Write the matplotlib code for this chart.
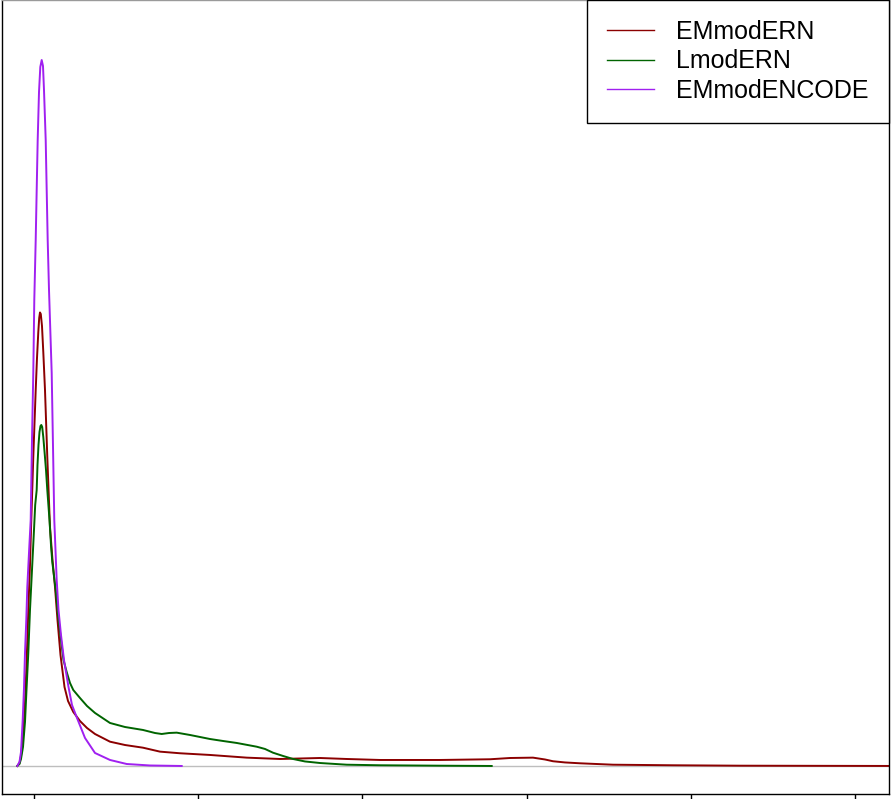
import matplotlib
matplotlib.use('Agg')
import matplotlib.pyplot as plt

# ── Density curves (x in axis units, y relative density) ──
emmod_ern_x = [-0.1017, -0.0883, -0.0792, -0.0670, -0.0548, -0.0445, -0.0347, -0.0244,
               -0.0183, -0.0043, 0.0104, 0.0183, 0.0262, 0.0317, 0.0365, 0.0414,
               0.0487, 0.0566, 0.0670, 0.0810, 0.0974, 0.1127, 0.1279, 0.1431,
               0.1614, 0.1858, 0.2071, 0.2393, 0.2801, 0.3228, 0.3715, 0.4629,
               0.5542, 0.6638, 0.7674, 0.8892, 1.0719, 1.2954, 1.4982, 1.7418,
               1.9044, 2.1072, 2.4726, 2.7771, 2.8989, 3.0390, 3.1121, 3.1608,
               3.2339, 3.3252, 3.5262, 3.8916, 4.2996, 5.2741]
emmod_ern_y = [0.0000, 0.0042, 0.0142, 0.0411, 0.0892, 0.1501, 0.2210, 0.2847,
               0.3343, 0.4377, 0.5326, 0.5779, 0.6147, 0.6346, 0.6424, 0.6402,
               0.6232, 0.5864, 0.5326, 0.4377, 0.3385, 0.2918, 0.2535, 0.2068,
               0.1572, 0.1119, 0.0921, 0.0765, 0.0637, 0.0538, 0.0453, 0.0344,
               0.0297, 0.0259, 0.0203, 0.0180, 0.0156, 0.0118, 0.0099, 0.0113,
               0.0099, 0.0085, 0.0085, 0.0095, 0.0113, 0.0118, 0.0092, 0.0067,
               0.0050, 0.0038, 0.0018, 0.0010, 0.0004, 0.0000]

lmod_ern_x = [-0.1017, -0.0883, -0.0792, -0.0670, -0.0548, -0.0457, -0.0347, -0.0244,
              -0.0122, 0.0000, 0.0073, 0.0164, 0.0213, 0.0274, 0.0335, 0.0396,
              0.0445, 0.0499, 0.0566, 0.0658, 0.0731, 0.0810, 0.0944, 0.1035,
              0.1114, 0.1322, 0.1462, 0.1644, 0.1797, 0.1991, 0.2192, 0.2393,
              0.2801, 0.3228, 0.3715, 0.4629, 0.5542, 0.6638, 0.7369, 0.7777,
              0.8222, 0.8691, 0.9501, 1.0719, 1.1510, 1.2345, 1.3563, 1.4068,
              1.4556, 1.5164, 1.5774, 1.6504, 1.7418, 1.9044, 2.1072, 2.4726,
              2.7875]
lmod_ern_y = [0.0000, 0.0028, 0.0099, 0.0269, 0.0623, 0.1076, 0.1601, 0.2210,
              0.2776, 0.3343, 0.3697, 0.3909, 0.4263, 0.4547, 0.4731, 0.4816,
              0.4830, 0.4802, 0.4660, 0.4405, 0.4193, 0.3909, 0.3484, 0.3130,
              0.2890, 0.2493, 0.2139, 0.1785, 0.1501, 0.1331, 0.1176, 0.1076,
              0.0963, 0.0850, 0.0751, 0.0609, 0.0552, 0.0510, 0.0467, 0.0453,
              0.0467, 0.0472, 0.0439, 0.0382, 0.0354, 0.0326, 0.0273, 0.0241,
              0.0188, 0.0142, 0.0099, 0.0064, 0.0042, 0.0018, 0.0010, 0.0004,
              0.0000]

emmod_encode_x = [-0.1017, -0.0883, -0.0792, -0.0688, -0.0609, -0.0548, -0.0469, -0.0408,
                  -0.0305, -0.0201, -0.0122, -0.0043, 0.0018, 0.0104, 0.0164, 0.0225,
                  0.0305, 0.0384, 0.0469, 0.0548, 0.0609, 0.0713, 0.0773, 0.0834,
                  0.0914, 0.1078, 0.1157, 0.1236, 0.1297, 0.1382, 0.1492, 0.1644,
                  0.1827, 0.2101, 0.2314, 0.2619, 0.3106, 0.3715, 0.4629, 0.5646,
                  0.7065, 0.8995]
emmod_encode_y = [0.0000, 0.0057, 0.0198, 0.0652, 0.1105, 0.1601, 0.2068, 0.2535,
                  0.3017, 0.3484, 0.4618, 0.5567, 0.6601, 0.7450, 0.8159, 0.8867,
                  0.9547, 0.9901, 1.0000, 0.9915, 0.9575, 0.8867, 0.8159, 0.7450,
                  0.6742, 0.5567, 0.4533, 0.3484, 0.3130, 0.2635, 0.2210, 0.1856,
                  0.1501, 0.1119, 0.0864, 0.0680, 0.0397, 0.0184, 0.0085, 0.0028,
                  0.0007, 0.0000]

labels = ['EMmodERN', 'LmodERN', 'EMmodENCODE']
colors = ['#8B0000', '#006400', '#A020F0']
x_ticks = [0, 1, 2, 3, 4, 5]

plt.rcParams['font.family'] = ['Liberation Sans', 'DejaVu Sans']

fig = plt.figure(figsize=(8.91, 7.99), dpi=100)
ax = fig.add_axes([1.5 / 891, 5 / 799, 887.5 / 891, 794 / 799])

# gray zero line like R's density plot
ax.axhline(0, color='#BEBEBE', linewidth=1.0, zorder=1)

series = [(emmod_ern_x, emmod_ern_y), (lmod_ern_x, lmod_ern_y),
          (emmod_encode_x, emmod_encode_y)]
for (xs, ys), lab, col in zip(series, labels, colors):
    ax.plot(xs, ys, color=col, linewidth=1.4, label=lab, zorder=2,
            solid_joinstyle='round')

ax.set_xlim(-0.1979, 5.2071)
ax.set_ylim(-0.0397, 1.0850)

ax.set_xticks(x_ticks)
ax.tick_params(axis='x', direction='out', length=7, width=1, labelbottom=False)
ax.set_yticks([])
for s in ax.spines.values():
    s.set_color('black')
    s.set_linewidth(1.0)
ax.spines['top'].set_color('#9A9A9A')

leg = ax.legend(loc='upper right', bbox_to_anchor=(1, 1), borderaxespad=0,
                fontsize=18, frameon=True, fancybox=False, framealpha=1,
                edgecolor='black', borderpad=0.8, handlelength=1.88,
                handletextpad=0.92, labelspacing=0.22)
leg.get_frame().set_linewidth(1.0)
for line in leg.get_lines():
    line.set_linewidth(1.0)

fig.savefig('out.png', dpi=100)
